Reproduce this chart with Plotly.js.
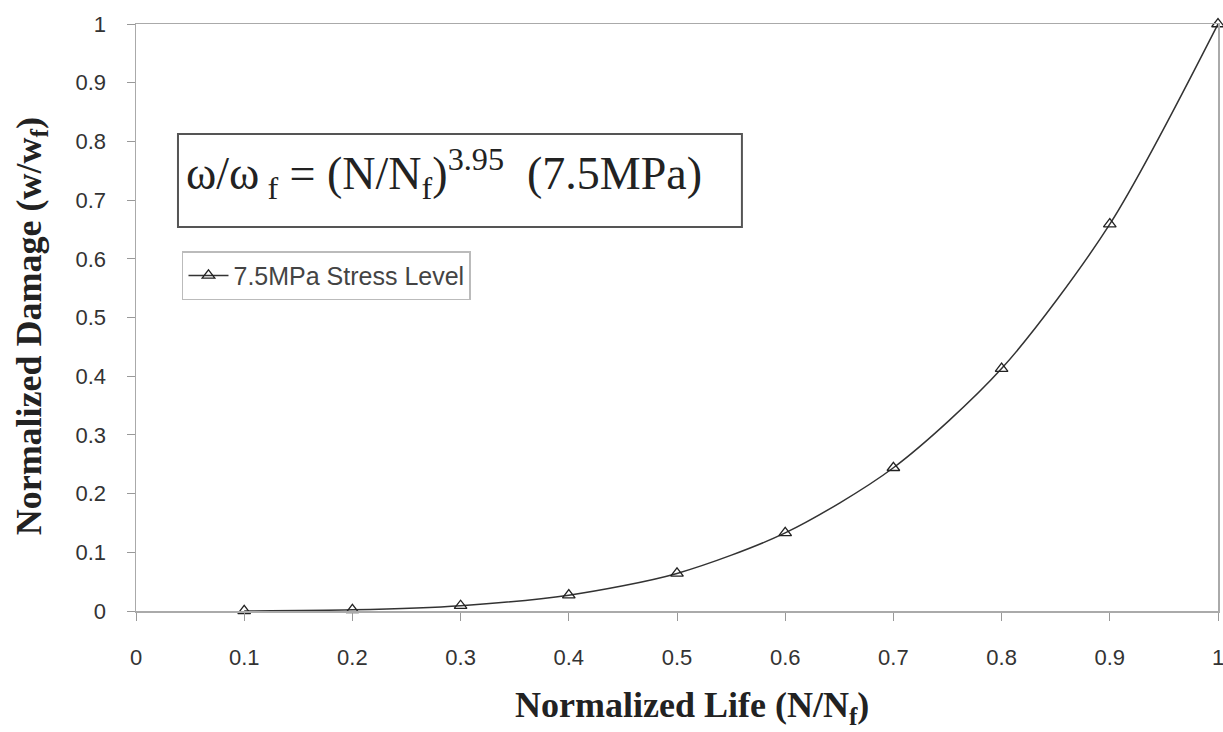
<!DOCTYPE html>
<html>
<head>
<meta charset="utf-8">
<script src="https://cdn.plot.ly/plotly-3.0.1.min.js"></script>
<style>
html,body{margin:0;padding:0;background:#fff;}
#chart{width:1223px;height:732px;}
</style>
</head>
<body>
<div id="chart"></div>
<script>
// Data
var lifeRatio = [0.1, 0.2, 0.3, 0.4, 0.5, 0.6, 0.7, 0.8, 0.9, 1.0];
var damageRatio = [0.0001, 0.002, 0.009, 0.027, 0.064, 0.133, 0.244, 0.413, 0.659, 1.0];
var seriesName = '7.5MPa Stress Level';
var tickVals = [0, 0.1, 0.2, 0.3, 0.4, 0.5, 0.6, 0.7, 0.8, 0.9, 1];
var tickText = ['0', '0.1', '0.2', '0.3', '0.4', '0.5', '0.6', '0.7', '0.8', '0.9', '1'];

var trace = {
  x: lifeRatio,
  y: damageRatio,
  type: 'scatter',
  mode: 'lines+markers',
  name: seriesName,
  line: {color: '#333', width: 1.5, shape: 'spline', smoothing: 0.8},
  marker: {symbol: 'triangle-up-open', size: 11, color: '#222', line: {width: 1.3, color: '#222'}},
  cliponaxis: false
};

var axisCommon = {
  range: [0, 1],
  tickvals: tickVals,
  ticktext: tickText,
  ticks: 'outside',
  ticklen: 8,
  tickwidth: 1,
  tickcolor: '#999',
  showgrid: false,
  zeroline: false,
  showline: true,
  linecolor: '#aaa',
  linewidth: 1.5,
  mirror: true,
  ticklabeloverflow: 'allow',
  tickfont: {family: 'Arial, Liberation Sans, sans-serif', size: 22, color: '#333'},
  fixedrange: true,
  automargin: false
};

var layout = {
  width: 1223,
  height: 732,
  margin: {l: 136, r: 5, t: 24, b: 121},
  paper_bgcolor: '#ffffff',
  plot_bgcolor: '#ffffff',
  showlegend: true,
  legend: {
    x: 0.0425, y: 0.613, xanchor: 'left', yanchor: 'top',
    bgcolor: '#ffffff',
    bordercolor: '#bbb',
    borderwidth: 1.5,
    font: {family: 'Arial, Liberation Sans, sans-serif', size: 25, color: '#444'},
    itemwidth: 40,
    tracegroupgap: 0
  },
  xaxis: Object.assign({}, axisCommon, {ticklabelstandoff: 18}),
  yaxis: Object.assign({}, axisCommon, {ticklabelstandoff: 16}),
  shapes: [
    {type: 'rect', xref: 'paper', yref: 'paper', x0: 0.0388, x1: 0.560, y0: 0.654, y1: 0.8126,
     line: {color: '#555', width: 2}, fillcolor: 'rgba(0,0,0,0)'}
  ],
  annotations: [
    {xref: 'paper', yref: 'paper', x: 0.044, y: 0.746, xanchor: 'left', yanchor: 'middle',
     text: 'ω/ω<sub> f</sub> = (N/N<sub>f</sub>)<sup>3.95</sup>&nbsp;&nbsp;(7.5MPa)',
     showarrow: false,
     font: {family: 'Liberation Serif, Times New Roman, serif', size: 46, color: '#222'}},
    {xref: 'paper', yref: 'paper', x: 0.514, y: -0.165, xanchor: 'center', yanchor: 'middle',
     text: '<b>Normalized Life (N/N<sub>f</sub>)</b>',
     showarrow: false,
     font: {family: 'Liberation Serif, Times New Roman, serif', size: 36, color: '#222'}},
    {xref: 'paper', yref: 'paper', x: -0.097, y: 0.485, xanchor: 'center', yanchor: 'middle',
     textangle: -90,
     text: '<b>Normalized Damage (w/w<sub>f</sub>)</b>',
     showarrow: false,
     font: {family: 'Liberation Serif, Times New Roman, serif', size: 36, color: '#222'}}
  ]
};

Plotly.newPlot('chart', [trace], layout, {displayModeBar: false, staticPlot: true});
</script>
</body>
</html>
